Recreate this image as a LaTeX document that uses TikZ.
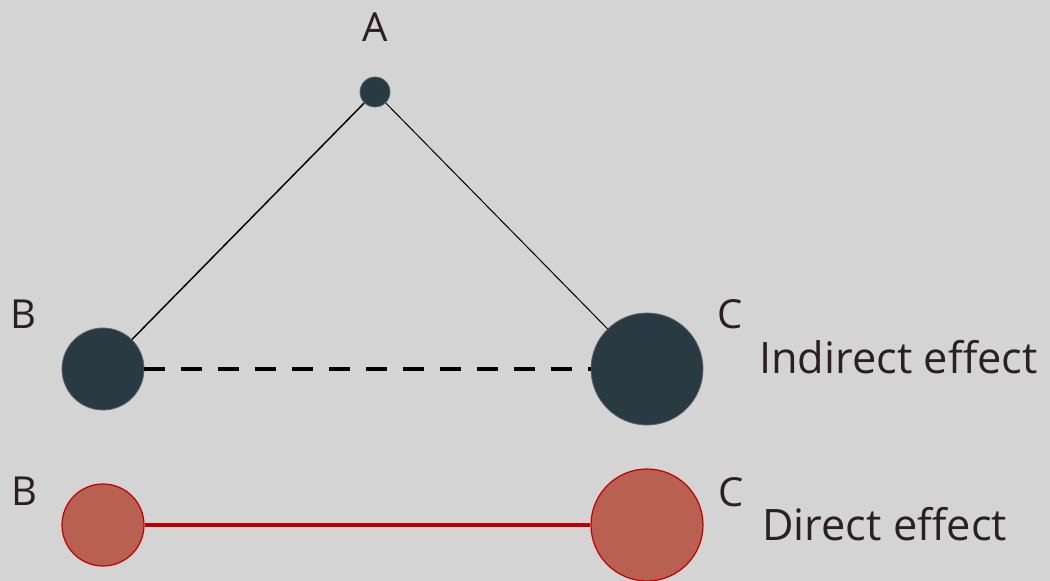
\documentclass[tikz,border=0pt]{standalone}
\usepackage{fontspec}
\setmainfont{Open Sans}
\definecolor{canvas}{HTML}{D4D4D4}
\definecolor{slate}{HTML}{2A3A42}
\definecolor{rim}{HTML}{5C6468}
\definecolor{brick}{HTML}{B86052}
\definecolor{deepred}{HTML}{C00000}
\definecolor{ink}{HTML}{2B1F24}
\tikzset{
    dark/.style={circle, inner sep=0pt, fill=slate, draw=rim, line width=0.6pt},
    light/.style={circle, inner sep=0pt, fill=brick, draw=deepred, line width=0.9pt},
    lbl/.style={text=ink, font=\fontsize{30}{34}\selectfont, inner sep=0pt},
    effect/.style={lbl, font=\fontsize{32.5}{36}\selectfont, anchor=base west},
}

\begin{document}
\begin{tikzpicture}[x=0.75pt, y=-0.75pt]

% canvas
\fill[canvas] (0,0) rectangle (1050,581);
\useasboundingbox (0,0) rectangle (1050,581);

% Indirect effect
\node[dark, minimum size=22.5pt] (a) at (375,92) {};
\node[dark, minimum size=61.5pt] (b) at (103,369) {};
\node[dark, minimum size=84pt]   (c) at (647,369) {};
\node[lbl] (la) at (375,27) {A};
\node[lbl] (lb) at (23,314) {B};
\node[lbl] (lc) at (730,314) {C};
\node[effect] (ind) at (759,373) {Indirect effect};

\draw[line width=1.1pt] (a) -- (b);
\draw[line width=0.75pt] (a) -- (c);
\draw[line width=3.4pt, dash pattern=on 15.75pt off 12pt] (b) -- (c);

% Direct effect
\node[light, minimum size=61.5pt] (b2) at (103,525) {};
\node[light, minimum size=84pt]   (c2) at (647,525) {};
\node[lbl] (lb2) at (24,491) {B};
\node[lbl] (lc2) at (731,492) {C};
\node[effect] (dir) at (762,540) {Direct effect};

\draw[deepred, line width=3pt] (b2) -- (c2);

\end{tikzpicture}
\end{document}
